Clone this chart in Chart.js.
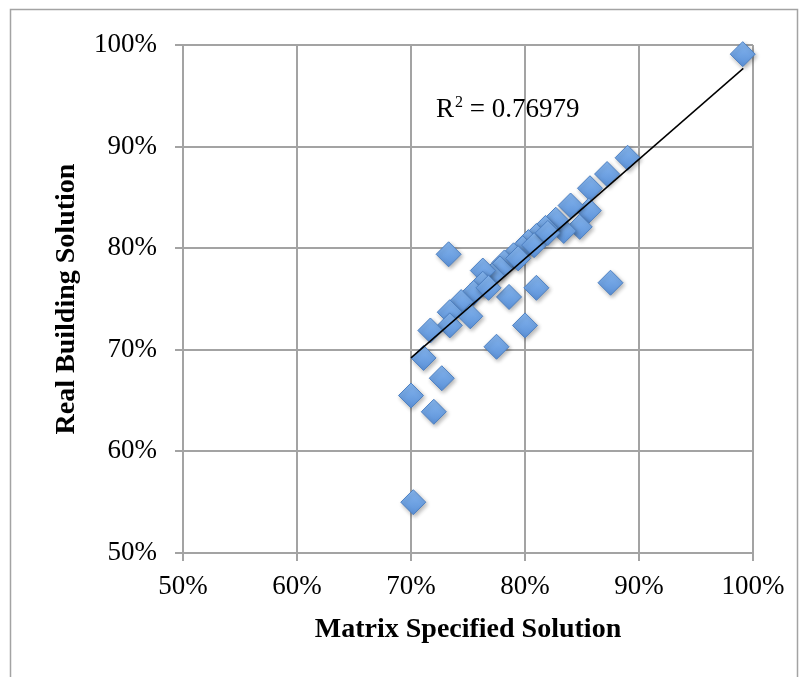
<!DOCTYPE html>
<html>
<head>
<meta charset="utf-8">
<script src="https://cdn.jsdelivr.net/npm/chart.js@4.4.1/dist/chart.umd.min.js"></script>
<style>
  html, body { margin: 0; padding: 0; background: #fff; }
  #wrap { width: 809px; height: 677px; position: relative; }
</style>
</head>
<body>
<div id="wrap"><canvas id="scatter-chart"></canvas></div>
<script>
// values, in percent
const matrixSpecified = [99.1, 89.0, 87.2, 85.7, 85.6, 84.0, 84.8, 83.4, 82.7, 81.8,
    81.0, 80.3, 79.8, 79.0, 78.2, 77.8, 77.1, 76.3, 76.3, 75.5,
    74.4, 73.4, 73.4, 71.7, 75.2, 73.3, 87.5, 81.0, 78.6, 80.0,
    77.5, 71.1, 72.7, 70.0, 72.0, 70.2, 80.8, 82.0, 76.8, 79.4]
const realBuilding = [99.1, 88.9, 87.3, 85.9, 83.7, 84.2, 82.1, 81.7, 82.8, 82.0,
    81.2, 80.6, 80.0, 79.3, 78.6, 78.0, 77.3, 77.8, 76.5, 75.6,
    74.7, 73.7, 72.4, 71.9, 73.3, 79.4, 76.6, 76.1, 75.2, 72.4,
    70.3, 69.2, 67.2, 65.5, 63.9, 55.0, 80.3, 81.5, 76.1, 79.0]
const trendX = [70.0, 99.15]
const trendY = [69.2, 97.7]
const tickLabels = ['50%', '60%', '70%', '80%', '90%', '100%']
const rSquaredText = ' = 0.76979'

const serif = '"Liberation Serif", "Times New Roman", serif'
const gridColor = '#a3a3a3'
const markerRadius = 12.5

const points = matrixSpecified.map((x, i) => ({ x: x, y: realBuilding[i] }))
const trendPoints = trendX.map((x, i) => ({ x: x, y: trendY[i] }))

// light-to-darker blue fill on each diamond
function diamondFill(context) {
    const chart = context.chart
    const flat = '#70a3e4'
    if (!context.raw || !chart.scales || !chart.scales.y) return flat
    const py = chart.scales.y.getPixelForValue(context.raw.y)
    if (!isFinite(py)) return flat
    const g = chart.ctx.createLinearGradient(0, py - markerRadius, 0, py + markerRadius)
    g.addColorStop(0, '#86b6ef')
    g.addColorStop(1, '#5b91d8')
    return g
}

// soft shadow under the diamonds
const shadowPlugin = {
    id: 'shadow',
    beforeDatasetDraw(chart, args) {
        if (args.index !== 1) return
        const ctx = chart.ctx
        ctx.save()
        ctx.shadowColor = 'rgba(0,0,0,0.3)'
        ctx.shadowBlur = 4
        ctx.shadowOffsetX = 1.5
        ctx.shadowOffsetY = 2
    },
    afterDatasetDraw(chart, args) {
        if (args.index !== 1) return
        chart.ctx.restore()
    }
}

// outer frame and R² label
const extrasPlugin = {
    id: 'extras',
    beforeDraw(chart) {
        const ctx = chart.ctx
        ctx.save()
        ctx.strokeStyle = gridColor
        ctx.lineWidth = 1.5
        ctx.strokeRect(10.5, 9.5, 787, 700)
        ctx.restore()
    },
    afterDraw(chart) {
        const ctx = chart.ctx
        ctx.save()
        ctx.fillStyle = '#000'
        ctx.textBaseline = 'alphabetic'
        ctx.font = '27px ' + serif
        let x = 436
        const y = 117
        ctx.fillText('R', x, y)
        x += ctx.measureText('R').width + 1
        ctx.font = '16px ' + serif
        ctx.fillText('2', x, y - 10)
        x += ctx.measureText('2').width
        ctx.font = '27px ' + serif
        ctx.fillText(rSquaredText, x, y)
        ctx.restore()
    }
}

new Chart(document.getElementById('scatter-chart'), {
    type: 'scatter',
    data: {
        datasets: [{
            type: 'line',
            data: trendPoints,
            borderColor: '#000',
            borderWidth: 1.5,
            pointRadius: 0,
            fill: false
        }, {
            data: points,
            pointStyle: 'rectRot',
            pointRadius: markerRadius,
            pointHoverRadius: markerRadius,
            backgroundColor: diamondFill,
            borderColor: '#4d80c2',
            borderWidth: 1,
            clip: false
        }]
    },
    options: {
        responsive: true,
        maintainAspectRatio: false,
        animation: false,
        layout: { padding: { left: 0, right: 56, top: 45, bottom: 0 } },
        plugins: {
            legend: { display: false },
            tooltip: { enabled: false }
        },
        scales: {
            x: {
                min: 50,
                max: 100,
                afterFit: s => { s.height = 124 },
                afterBuildTicks: s => { s.ticks = tickLabels.map(t => ({ value: parseFloat(t) })) },
                ticks: {
                    callback: (v, i) => tickLabels[i],
                    color: '#000',
                    font: { family: serif, size: 27 },
                    padding: 10,
                    maxRotation: 0
                },
                grid: { color: gridColor, lineWidth: 2, tickLength: 8 },
                border: { color: gridColor, width: 2 },
                title: {
                    display: true,
                    text: 'Matrix Specified Solution',
                    color: '#000',
                    font: { family: serif, size: 28, weight: 'bold' },
                    padding: { top: 0, bottom: 30 }
                }
            },
            y: {
                min: 50,
                max: 100,
                afterFit: s => { s.width = 183 },
                afterBuildTicks: s => { s.ticks = tickLabels.map(t => ({ value: parseFloat(t) })) },
                ticks: {
                    callback: (v, i) => tickLabels[i],
                    color: '#000',
                    font: { family: serif, size: 27 },
                    padding: 18
                },
                grid: { color: gridColor, lineWidth: 2, tickLength: 8 },
                border: { color: gridColor, width: 2 },
                title: {
                    display: true,
                    text: 'Real Building Solution',
                    color: '#000',
                    font: { family: serif, size: 28, weight: 'bold' },
                    padding: { top: 50, bottom: 0 }
                }
            }
        }
    },
    plugins: [shadowPlugin, extrasPlugin]
})
</script>
</body>
</html>
